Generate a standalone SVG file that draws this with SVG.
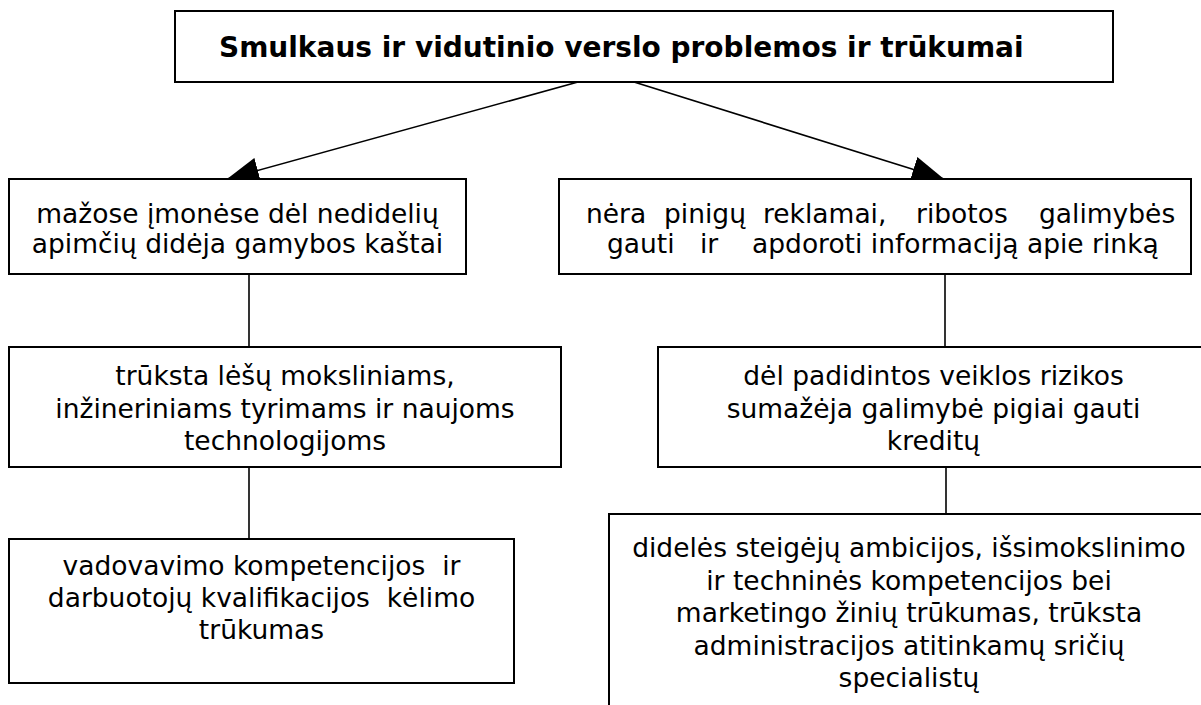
<svg xmlns="http://www.w3.org/2000/svg" width="1201" height="705" viewBox="0 0 1201 705">
<defs>
<style>
.box{fill:#fff;stroke:#000;stroke-width:2}
.t{font-family:"DejaVu Sans",Verdana,sans-serif;font-size:26.5px;fill:#000;white-space:pre}
.c{text-anchor:middle}
.b{font-weight:bold;font-size:28px}
.ln{stroke:#000;stroke-width:1.6;fill:none}
</style>
<marker id="ah" viewBox="0 0 32 26" refX="32" refY="13" markerWidth="32" markerHeight="26" markerUnits="userSpaceOnUse" orient="auto">
<path d="M0,0 L32,13 L0,26 Z" fill="#000"/>
</marker>
</defs>
<rect width="1201" height="705" fill="#fff"/>
<g id="connectors">
<line class="ln" x1="578" y1="82" x2="227" y2="179" marker-end="url(#ah)"/>
<line class="ln" x1="634" y1="82" x2="944" y2="179" marker-end="url(#ah)"/>
<line class="ln" x1="249" y1="274" x2="249" y2="347"/>
<line class="ln" x1="249" y1="467" x2="249" y2="539"/>
<line class="ln" x1="945" y1="274" x2="945" y2="347"/>
<line class="ln" x1="946" y1="467" x2="946" y2="514"/>
</g>
<g id="n-title">
<rect class="box" x="175" y="11" width="938" height="71"/>
<text class="t b" x="219" y="57">Smulkaus ir vidutinio verslo problemos ir trūkumai</text>
</g>
<g id="n-left1">
<rect class="box" x="9" y="179" width="457" height="95"/>
<text class="t c" x="237.5" y="223">mažose įmonėse dėl nedidelių</text>
<text class="t c" x="237.5" y="253">apimčių didėja gamybos kaštai</text>
</g>
<g id="n-right1">
<rect class="box" x="559" y="179" width="632" height="95"/>
<text class="t" y="223"><tspan x="586">nėra</tspan><tspan x="664">pinigų</tspan><tspan x="763">reklamai,</tspan><tspan x="916">ribotos</tspan><tspan x="1039">galimybės</tspan></text>
<text class="t" y="253"><tspan x="607">gauti</tspan><tspan x="700">ir</tspan><tspan x="752">apdoroti informaciją apie rinką</tspan></text>
</g>
<g id="n-left2">
<rect class="box" x="9" y="347" width="552" height="120"/>
<text class="t c" x="285" y="385">trūksta lėšų moksliniams,</text>
<text class="t c" x="285" y="417.5">inžineriniams tyrimams ir naujoms</text>
<text class="t c" x="285" y="450">technologijoms</text>
</g>
<g id="n-right2">
<rect class="box" x="658" y="347" width="551" height="120"/>
<text class="t c" x="933.5" y="385">dėl padidintos veiklos rizikos</text>
<text class="t c" x="933.5" y="417.5">sumažėja galimybė pigiai gauti</text>
<text class="t c" x="933.5" y="450">kreditų</text>
</g>
<g id="n-left3">
<rect class="box" x="9" y="539" width="505" height="144"/>
<text class="t c" x="261.5" y="575">vadovavimo kompetencijos  ir</text>
<text class="t c" x="261.5" y="607">darbuotojų kvalifikacijos  kėlimo</text>
<text class="t c" x="261.5" y="639">trūkumas</text>
</g>
<g id="n-right3">
<rect class="box" x="609" y="514" width="600" height="210"/>
<text class="t c" x="909" y="557">didelės steigėjų ambicijos, išsimokslinimo</text>
<text class="t c" x="909" y="589.5">ir techninės kompetencijos bei</text>
<text class="t c" x="909" y="622">marketingo žinių trūkumas, trūksta</text>
<text class="t c" x="909" y="654.5">administracijos atitinkamų sričių</text>
<text class="t c" x="909" y="687">specialistų</text>
</g>
</svg>
